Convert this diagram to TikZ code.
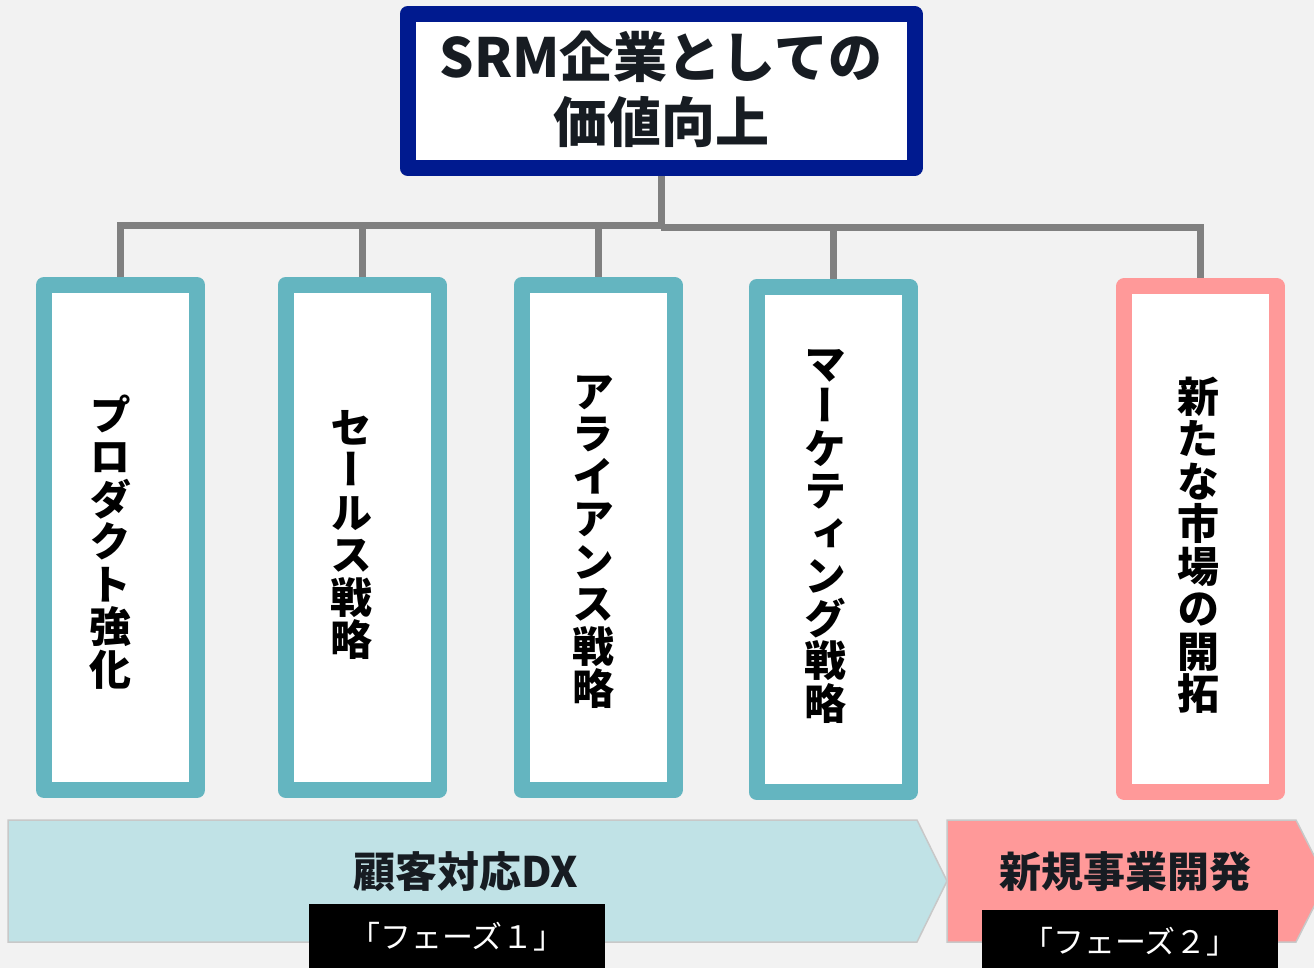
\documentclass[tikz,border=0pt]{standalone}
\usepackage{fontspec}
\setmainfont{Noto Sans CJK JP}
\newfontfamily\jp{Noto Sans CJK JP}
\newfontfamily\jpv{Noto Sans CJK JP}[RawFeature=+vert]
\definecolor{bg}{HTML}{F2F2F2}
\definecolor{navy}{HTML}{001A8F}
\definecolor{tealb}{HTML}{64B5C0}
\definecolor{pinkb}{HTML}{FF9999}
\definecolor{lblue}{HTML}{C0E2E6}
\definecolor{edgeg}{HTML}{C8C8C8}
\definecolor{conng}{HTML}{808080}
\definecolor{txt}{HTML}{171C22}
\tikzset{
  topbox/.style={draw=navy, line width=16pt, fill=white, line join=round,
    minimum width=507pt, minimum height=154pt, inner sep=0pt},
  colbox/.style={draw=#1, line width=16pt, fill=white, line join=round,
    minimum width=153pt, minimum height=505pt, inner sep=0pt},
  vt/.style={font=\jpv\bfseries\fontsize{42}{42.5}\selectfont, align=center, inner sep=0pt, text=black},
  conn/.style={draw=conng, line width=7pt},
  arrowshape/.style={fill=#1, draw=edgeg, line width=1.5pt},
  phase/.style={font=\jp\bfseries\fontsize{42}{46}\selectfont, text=txt, inner sep=0pt},
  tag/.style={fill=black, inner sep=0pt, minimum width=296pt, minimum height=64pt},
  tagtext/.style={font=\jp\fontsize{31}{34}\selectfont, text=white, inner sep=0pt},
}
\begin{document}
\begin{tikzpicture}[x=1pt,y=-1pt]
\useasboundingbox (0,0) rectangle (1314,968);
\fill[bg] (0,0) rectangle (1314,968);

% bottom phase arrows
\draw[arrowshape=lblue] (8,820) -- (917,820) -- (947,881) -- (917,942) -- (8,942) -- cycle;
\draw[arrowshape=pinkb] (947,820) -- (1296,820) -- (1327,881) -- (1296,942) -- (947,942) -- cycle;
\node[phase] (p1) at (466,872) {顧客対応DX};
\node[phase] (p2) at (1125,872) {新規事業開発};
\node[tag] (g1) at (457,936) {};
\node[tagtext] (g1t) at (457,937) {「フェーズ１」};
\node[tag, minimum height=60pt] (g2) at (1130,940) {};
\node[tagtext] (g2t) at (1130,942) {「フェーズ２」};

% top box
\node[topbox] (top) at (661,91) {};
\node[font=\jp\bfseries\fontsize{54}{65}\selectfont, text=txt, align=center, inner sep=0pt] (toptext) at (661,89) {SRM企業としての\\価値向上};

% column boxes
\node[colbox=tealb] (b1) at (120.5,537.5) {};
\node[colbox=tealb] (b2) at (362,537.5) {};
\node[colbox=tealb] (b3) at (598,537.5) {};
\node[colbox=tealb] (b4) at (833,539.5) {};
\node[colbox=pinkb] (b5) at (1200.5,539) {};

% connectors
\coordinate (busL) at (661,226);
\coordinate (busR) at (661,228);
\draw[conn] (top.south) -- (busL);
\draw[conn] (busL) -| (b1.north);
\draw[conn] (busL) -| (b2.north);
\draw[conn] (busL) -| (b3.north);
\draw[conn] (busR) -| (b4.north);
\draw[conn] (busR) -| (b5.north);

% vertical texts
\node[vt] (t1) at (110,542) {プ\\ロ\\ダ\\ク\\ト\\強\\化};
\node[vt] (t2) at (351,535) {セ\\ー\\ル\\ス\\戦\\略};
\node[vt] (t3) at (593,542) {ア\\ラ\\イ\\ア\\ン\\ス\\戦\\略};
\node[vt] (t4) at (825,536) {マ\\ー\\ケ\\テ\\ィ\\ン\\グ\\戦\\略};
\node[vt] (t5) at (1198,545) {新\\た\\な\\市\\場\\の\\開\\拓};
\end{tikzpicture}
\end{document}
